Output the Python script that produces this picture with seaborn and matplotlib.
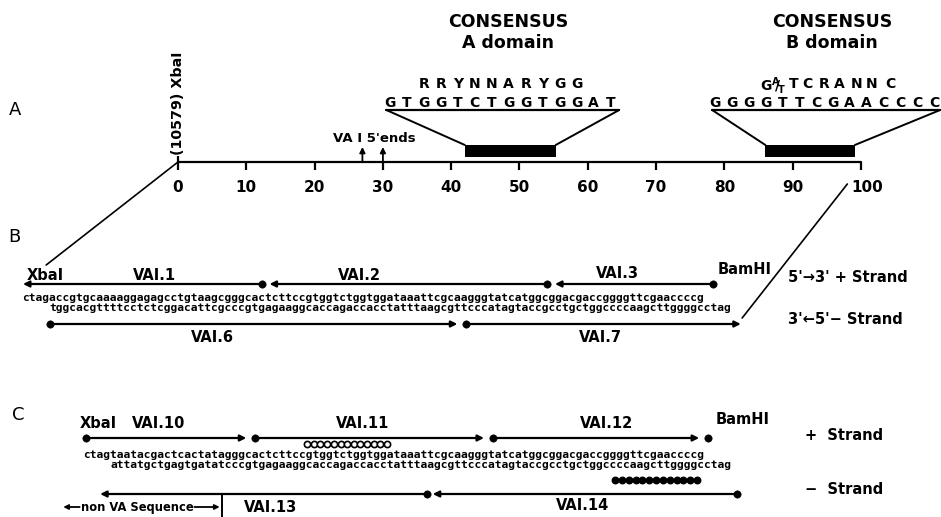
import matplotlib
matplotlib.use("Agg")
import matplotlib.pyplot as plt
import seaborn as sns
import pandas as pd

# ---- data (map units: 1 unit = 1 bp, 0 = XbaI site) ----
scale_ticks = [0, 10, 20, 30, 40, 50, 60, 70, 80, 90, 100]
five_prime_ends = [27, 30]
domain_a = (42.0, 55.3)
domain_b = (86.0, 99.1)

seq_a = "GTGGTCTGGTGGAT"
cons_a = "RRYNNARYGG"          # over seq_a letters 2..11
seq_b = "GGGGTTCGAACCCC"
cons_b = ["G/", "T", "C", "R", "A", "N", "N", "C"]   # "G/" = G with A/T
cons_b_idx = [3, 4.65, 5.5, 6.45, 7.4, 8.4, 9.3, 10.4]

b_top = "ctagaccgtgcaaaaggagagcctgtaagcgggcactcttccgtggtctggtggataaattcgcaagggtatcatggcggacgaccggggttcgaaccccg"
b_bot = "tggcacgttttcctctcggacattcgcccgtgagaaggcaccagaccacctatttaagcgttcccatagtaccgcctgctggccccaagcttggggcctag"
c_top = "ctagtaatacgactcactatagggcactcttccgtggtctggtggataaattcgcaagggtatcatggcggacgaccggggttcgaaccccg"
c_bot = "attatgctgagtgatatcccgtgagaaggcaccagaccacctatttaagcgttcccatagtaccgcctgctggccccaagcttggggcctag"
b_start = -22.8
c_start = -13.9

# oligos: 5' end (dot) -> 3' end (arrow)
oligo_name = ["VAI.1", "VAI.2", "VAI.3", "VAI.6", "VAI.7",
              "VAI.10", "VAI.11", "VAI.12", "VAI.13", "VAI.14"]
oligo_5p = [12.3, 54.0, 78.3, -18.7, 42.2, -13.5, 11.3, 46.1, 36.5, 81.8]
oligo_3p = [-22.7, 13.4, 55.2, 40.9, 82.4, 10.0, 44.8, 76.3, -11.4, 37.3]
oligo_row = ["b_top", "b_top", "b_top", "b_bot", "b_bot",
             "c_top", "c_top", "c_top", "c_bot", "c_bot"]
extra_dots = [("c_top", 77.6)]

open_circles = [18.9, 19.9, 20.8, 21.8, 22.8, 23.8, 24.8, 25.7, 26.7, 27.7, 28.7, 29.6, 30.6]
filled_circles = [64.0, 65.0, 66.0, 67.0, 68.0, 69.0, 70.0, 71.0, 72.0, 73.0, 74.0, 75.0, 76.0]

# ---- layout ----
row_y = {"b_top": 284, "b_bot": 324, "c_top": 438, "c_bot": 494}
PX = 6.83          # pixels per unit
X0 = 178           # pixel of unit 0
AXIS_Y = 162

sns.set_theme(style="white")
plt.rcParams["font.family"] = ["DejaVu Sans"]
plt.rcParams["mathtext.fontset"] = "dejavusans"
fig = plt.figure(figsize=(9.41, 5.17), dpi=100)
ax = fig.add_axes([0, 0, 1, 1])
ax.set_xlim(-X0 / PX, (941 - X0) / PX)
ax.set_ylim(517, 0)
ax.axis("off")

K = "black"
bold = dict(color=K, fontweight="bold")

# scale bar
ax.plot([scale_ticks[0], scale_ticks[-1]], [AXIS_Y, AXIS_Y], color=K, lw=1.6)
ax.vlines(scale_ticks, AXIS_Y, AXIS_Y + 8, color=K, lw=1.6)
ax.vlines(0, AXIS_Y - 6, AXIS_Y, color=K, lw=1.6)
for t in scale_ticks:
    ax.text(t + (0.9 if t == 100 else 0), 187, str(t), ha="center", va="center",
            fontsize=11, **bold)
ax.text(0, 103, "(10579) XbaI", rotation=90, ha="center", va="center", fontsize=10.3, **bold)

# 5' ends
for p in five_prime_ends:
    ax.annotate("", xy=(p, AXIS_Y - 15), xytext=(p, AXIS_Y),
                arrowprops=dict(arrowstyle="-|>", color=K, lw=1.3, mutation_scale=8,
                                shrinkA=0, shrinkB=0))
ax.text(28.8, 139, "VA I 5'ends", ha="center", va="center", fontsize=9.5, **bold)

# consensus domains
def domain(box, top_l, top_r, seq, seq_x0, step, cons, cons_idx, title_x, tag):
    ax.fill_between([box[0], box[1]], 145, 157, color=K, lw=0)
    ax.plot([top_l, box[0]], [110, 145], color=K, lw=1.4)
    ax.plot([top_r, box[1]], [110, 145], color=K, lw=1.4)
    ax.plot([top_l, top_r], [110, 110], color=K, lw=1.6)
    for i, ch in enumerate(seq):
        ax.text(seq_x0 + i * step, 103, ch, ha="center", va="center", fontsize=10, **bold)
    for ch, i in zip(cons, cons_idx):
        x = seq_x0 + i * step
        if ch == "G/":
            ax.text(x - 0.8, 85, r"$\mathbf{G^{A}\!\!/\!_{T}}$", ha="left", va="center",
                    fontsize=10, color=K)
        else:
            ax.text(x, 84, ch, ha="center", va="center", fontsize=10, **bold)
    ax.text(title_x, 22, "CONSENSUS", ha="center", va="center", fontsize=12.5, **bold)
    ax.text(title_x, 43, tag, ha="center", va="center", fontsize=12.5, **bold)

domain(domain_a, 30.5, 64.6, seq_a, 31.0, 2.49, cons_a, range(2, 12), 48.3, "A domain")
domain(domain_b, 78.2, 111.6, seq_b, 78.6, 2.47, cons_b, cons_b_idx, 95.8, "B domain")

# expansion lines
ax.plot([0, -19.3], [AXIS_Y, 265], color=K, lw=1.2)
ax.plot([98.0, 82.6], [184, 318], color=K, lw=1.2)

# sequences
seq_kw = dict(family="DejaVu Sans Mono", fontweight="bold", fontsize=8.15, color=K,
              ha="left", va="center")
ax.text(b_start, 298, b_top, **seq_kw)
ax.text(b_start + 4, 308, b_bot, **seq_kw)
ax.text(c_start, 455, c_top, **seq_kw)
ax.text(c_start + 4, 465, c_bot, **seq_kw)

# oligos
olig = pd.DataFrame({"name": oligo_name, "p5": oligo_5p, "p3": oligo_3p, "row": oligo_row})
olig["y"] = olig["row"].map(row_y)
for _, r in olig.iterrows():
    ax.annotate("", xy=(r.p3, r.y), xytext=(r.p5, r.y),
                arrowprops=dict(arrowstyle="-|>", color=K, lw=1.6, mutation_scale=9,
                                shrinkA=0, shrinkB=0))
dots = pd.concat([olig[["p5", "y"]],
                  pd.DataFrame({"p5": [d[1] for d in extra_dots],
                                "y": [row_y[d[0]] for d in extra_dots]})])
sns.scatterplot(data=dots, x="p5", y="y", ax=ax, color=K, s=28, edgecolor=K, zorder=5, legend=False)

# protected regions
sns.scatterplot(x=open_circles, y=[444] * len(open_circles), ax=ax, s=20,
                facecolor="white", edgecolor=K, linewidth=1.2, zorder=5)
sns.scatterplot(x=filled_circles, y=[480] * len(filled_circles), ax=ax, s=22,
                color=K, edgecolor=K, linewidth=1.0, zorder=5)

# labels B
lab = dict(ha="center", va="center", fontsize=10.5, **bold)
ax.text(-19.5, 275, "XbaI", **lab)
ax.text(-3.4, 275, "VAI.1", **lab)
ax.text(26.6, 275, "VAI.2", **lab)
ax.text(64.3, 273, "VAI.3", **lab)
ax.text(83.0, 270, "BamHI", **lab)
ax.text(5.1, 337, "VAI.6", **lab)
ax.text(61.8, 337, "VAI.7", **lab)
ax.text(89.3, 278, "5'\u21923' + Strand", ha="left", va="center", fontsize=10.5, **bold)
ax.text(89.3, 320, "3'\u21905'\u2212 Strand", ha="left", va="center", fontsize=10.5, **bold)

# labels C
ax.text(-11.7, 423, "XbaI", **lab)
ax.text(-2.9, 423, "VAI.10", **lab)
ax.text(27.1, 423, "VAI.11", **lab)
ax.text(62.8, 423, "VAI.12", **lab)
ax.text(82.6, 420, "BamHI", **lab)
ax.text(13.5, 507, "VAI.13", **lab)
ax.text(59.2, 505, "VAI.14", **lab)
ax.text(91.8, 435, "+  Strand", ha="left", va="center", fontsize=10.5, **bold)
ax.text(91.8, 490, "\u2212  Strand", ha="left", va="center", fontsize=10.5, **bold)
ax.vlines(6.4, 494, 517, color=K, lw=1.4)
ax.text(-6.0, 507, "non VA Sequence", ha="center", va="center", fontsize=8.3, **bold)
for a, b in [(-14.4, -16.8), (2.4, 6.1)]:
    ax.annotate("", xy=(b, 507), xytext=(a, 507),
                arrowprops=dict(arrowstyle="-|>", color=K, lw=1.3, mutation_scale=7,
                                shrinkA=0, shrinkB=0))

# panel letters
for x, y, s in [(-23.9, 110, "A"), (-24.0, 237, "B"), (-23.4, 415, "C")]:
    ax.text(x, y, s, ha="center", va="center", fontsize=13, color=K)

fig.savefig("out.png", dpi=100)
